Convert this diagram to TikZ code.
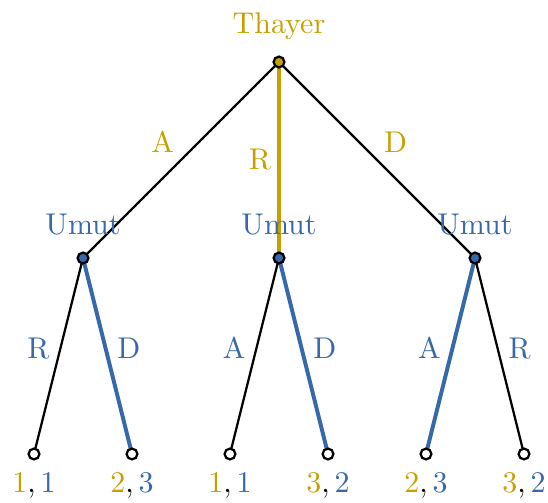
\documentclass[tikz,border=0pt]{standalone}
\usepackage{xcolor}

\definecolor{thayer}{RGB}{199,160,0}
\definecolor{umut}{RGB}{55,104,170}

\tikzset{
  move/.style={inner sep=2pt},
  player/.style={inner sep=3.33pt},
  payoff/.style={inner sep=3.33pt}
}

\begin{document}
\begin{tikzpicture}[x=16.33pt,y=16.33pt]

\useasboundingbox (-5.694,-8.980) rectangle (5.490,1.265);

\begin{scope}[shift={(0,0)}]
        \coordinate (T) at (0,0);
        \coordinate (U1) at (-4,-4);
        \coordinate (U2) at (0,-4);
        \coordinate (U3) at (4,-4);
        \coordinate (L1) at (-5,-8);
        \coordinate (L2) at (-3,-8);
        \coordinate (L3) at (-1,-8);
        \coordinate (L4) at (1,-8);
        \coordinate (L5) at (3,-8);
        \coordinate (L6) at (5,-8);

        % Thayer
        \draw[line width=0.75pt] (T) -- (U1) node[move, midway, above left, text=thayer] {A};
        \draw[thayer][line width=1.3pt] (T) -- (U2) node[move, midway, left, text=thayer] {R};
        \draw[line width=0.75pt] (T) -- (U3) node[move, midway, above right, text=thayer] {D};

        % Umut
        \draw[line width=0.75pt] (U1) -- (L1) node[pos=0.46, left, text=umut] {R};
        \draw[umut][line width=1.3pt] (U1) -- (L2) node[pos=0.46, right, text=umut] {D};
        \draw[line width=0.75pt] (U2) -- (L3) node[pos=0.46, left, text=umut] {A};
        \draw[umut][line width=1.3pt] (U2) -- (L4) node[pos=0.46, right, text=umut] {D};
        \draw[umut][line width=1.3pt] (U3) -- (L5) node[pos=0.46, left, text=umut] {A};
        \draw[line width=0.75pt] (U3) -- (L6) node[pos=0.46, right, text=umut] {R};

        % Wierzchołki
        \filldraw[fill=thayer, line width=0.75pt] (T) circle[radius=1.8pt];
        \node[player, text=thayer, anchor=south, yshift=4pt] (tT) at (T) {Thayer};
        \foreach \u in {U1,U2,U3} {
          \filldraw[fill=umut, line width=0.75pt] (\u) circle[radius=1.8pt];
          \node[player, text=umut, anchor=south, yshift=4pt] (t\u) at (\u) {Umut};
        }
        \foreach \l in {L1,L2,L3,L4,L5,L6} {
          \filldraw[fill=white, line width=0.75pt] (\l) circle[radius=1.8pt];
        }

        % Wypłaty
        \node[payoff, anchor=north, yshift=-2.7pt] (p1) at (L1) {$\textcolor{thayer}{1},\textcolor{umut}{1}$};
        \node[payoff, anchor=north, yshift=-2.7pt] (p2) at (L2) {$\textcolor{thayer}{2},\textcolor{umut}{3}$};
        \node[payoff, anchor=north, yshift=-2.7pt] (p3) at (L3) {$\textcolor{thayer}{1},\textcolor{umut}{1}$};
        \node[payoff, anchor=north, yshift=-2.7pt] (p4) at (L4) {$\textcolor{thayer}{3},\textcolor{umut}{2}$};
        \node[payoff, anchor=north, yshift=-2.7pt] (p5) at (L5) {$\textcolor{thayer}{2},\textcolor{umut}{3}$};
        \node[payoff, anchor=north, yshift=-2.7pt] (p6) at (L6) {$\textcolor{thayer}{3},\textcolor{umut}{2}$};
\end{scope}

\end{tikzpicture}
\end{document}
